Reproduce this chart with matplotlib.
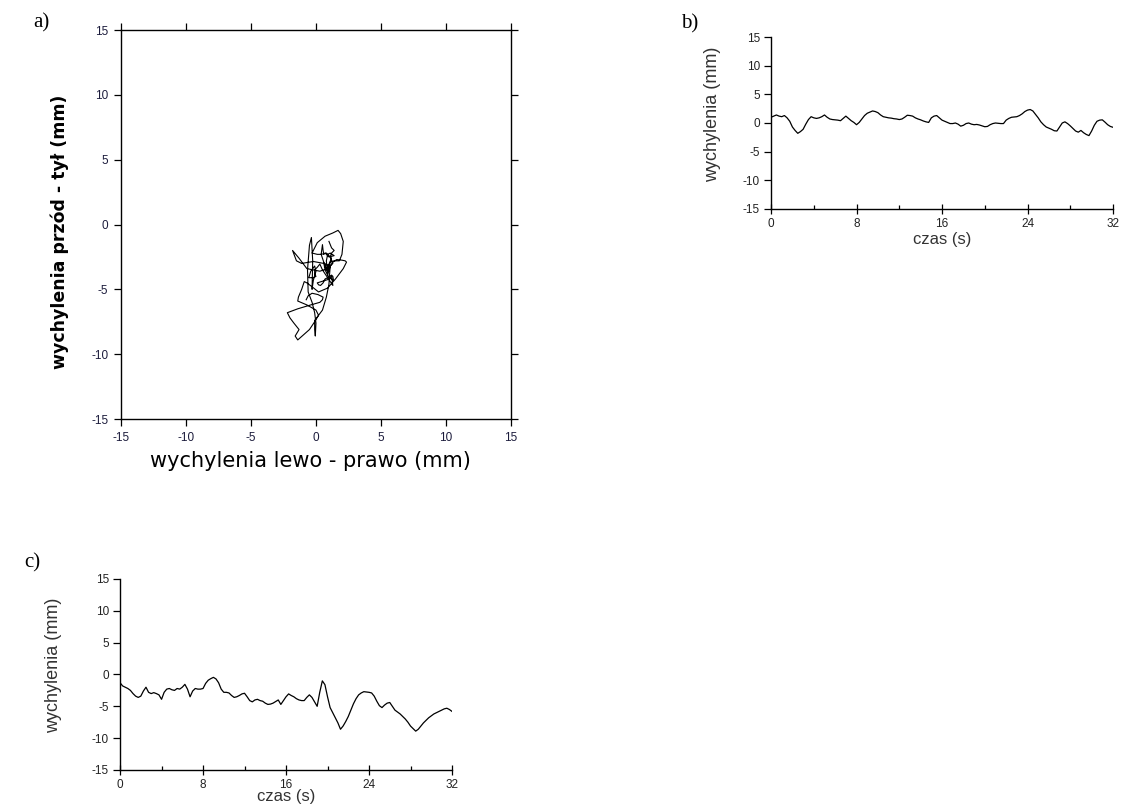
import matplotlib
matplotlib.use('Agg')
import matplotlib.pyplot as plt
import numpy as np
from matplotlib.ticker import MultipleLocator

plt.rcParams['axes.unicode_minus'] = False
plt.rcParams['font.family'] = ['Liberation Sans', 'DejaVu Sans']

# probki co 0.25 s, 0 - 32 s
krok = 0.25

# wychylenia lewo - prawo (mm)
lewo_prawo = [
    1.0, 1.2, 1.4, 1.2, 1.1, 1.3, 0.9, 0.3,
    -0.7, -1.3, -1.8, -1.5, -1.1, -0.2, 0.6, 1.1,
    0.9, 0.8, 0.9, 1.1, 1.4, 1.0, 0.7, 0.6,
    0.55, 0.5, 0.4, 0.8, 1.2, 0.8, 0.4, 0.1,
    -0.3, 0.1, 0.7, 1.3, 1.7, 1.9, 2.1, 2.0,
    1.8, 1.4, 1.1, 1.0, 0.9, 0.85, 0.75, 0.7,
    0.6, 0.7, 1.0, 1.35, 1.3, 1.2, 0.9, 0.7,
    0.55, 0.35, 0.2, 0.1, 0.9, 1.2, 1.3, 0.9,
    0.5, 0.3, 0.1, -0.1, -0.1, 0.0, -0.2, -0.55,
    -0.4, -0.1, 0.0, -0.2, -0.3, -0.25, -0.35, -0.5,
    -0.65, -0.6, -0.3, -0.1, 0.0, -0.05, -0.1, -0.1,
    0.5, 0.8, 1.0, 1.05, 1.1, 1.3, 1.6, 2.0,
    2.25, 2.35, 2.1, 1.5, 0.9, 0.2, -0.3, -0.7,
    -0.9, -1.1, -1.35, -1.4, -0.7, 0.0, 0.2, -0.1,
    -0.5, -0.95, -1.4, -1.6, -1.3, -1.7, -2.0, -2.2,
    -1.4, -0.4, 0.3, 0.5, 0.55, 0.15, -0.3, -0.6,
    -0.75,
]

# wychylenia przod - tyl (mm)
przod_tyl = [
    -1.3, -1.8, -2.0, -2.2, -2.5, -3.0, -3.4, -3.6,
    -3.4, -2.6, -2.0, -2.8, -3.0, -2.85, -3.0, -3.2,
    -3.9, -2.8, -2.3, -2.2, -2.4, -2.5, -2.2, -2.3,
    -2.0, -1.55, -2.3, -3.5, -2.6, -2.2, -2.3, -2.3,
    -2.2, -1.4, -0.9, -0.65, -0.45, -0.7, -1.3, -2.3,
    -2.8, -2.8, -2.9, -3.3, -3.6, -3.5, -3.3, -3.05,
    -2.95, -3.5, -4.1, -4.3, -4.0, -3.9, -4.1, -4.2,
    -4.5, -4.7, -4.65, -4.5, -4.25, -4.0, -4.7, -4.1,
    -3.5, -3.05, -3.3, -3.5, -3.8, -4.0, -4.1, -4.1,
    -3.6, -3.2, -3.6, -4.3, -5.0, -2.8, -1.0, -1.6,
    -3.5, -5.2, -6.0, -6.8, -7.6, -8.6, -8.1, -7.4,
    -6.6, -5.6, -4.6, -3.8, -3.2, -2.9, -2.7, -2.75,
    -2.8, -2.9, -3.4, -4.2, -4.9, -5.2, -4.8, -4.5,
    -4.4, -5.0, -5.6, -5.9, -6.2, -6.6, -7.0, -7.5,
    -8.1, -8.5, -8.9, -8.6, -8.1, -7.6, -7.2, -6.8,
    -6.5, -6.2, -6.0, -5.8, -5.6, -5.4, -5.3, -5.5,
    -5.8,
]

czas = np.arange(len(lewo_prawo)) * krok

zakres = (-15, 15)
ticki_mm = [-15, -10, -5, 0, 5, 10, 15]
ticki_czas = [0, 8, 16, 24, 32]

waski = ['Liberation Sans Narrow', 'Liberation Sans']

fig = plt.figure(figsize=(11.23, 8.10), dpi=100)

# a) stabilogram
axa = fig.add_axes([0.1077, 0.4827, 0.3473, 0.4802])
axa.plot(lewo_prawo, przod_tyl, color='black', lw=0.8)
axa.set_xlim(zakres)
axa.set_ylim(zakres)
axa.set_xticks(ticki_mm)
axa.set_yticks(ticki_mm)
axa.tick_params(direction='out', length=5, width=0.9, top=True, right=True,
                labelsize=8.5, labelcolor='#1c1c3c', pad=4)
for s in axa.spines.values():
    s.set_linewidth(1.0)
axa.set_xlabel('wychylenia lewo - prawo (mm)', fontsize=15, family='DejaVu Sans',
               va='top')
axa.xaxis.set_label_coords(0.485, -0.082)
axa.set_ylabel('wychylenia przód - tył (mm)', fontsize=12.5, family='DejaVu Sans',
               fontweight='bold', va='center')
axa.yaxis.set_label_coords(-0.156, 0.48)


def przebieg(ax, wartosci, lab_x, lab_dol, lab_y):
    ax.plot(czas, wartosci, color='black', lw=0.9)
    ax.set_xlim(0, 32)
    ax.set_ylim(zakres)
    ax.set_xticks(ticki_czas)
    ax.xaxis.set_minor_locator(MultipleLocator(4))
    ax.set_yticks(ticki_mm)
    ax.spines['top'].set_visible(False)
    ax.spines['right'].set_visible(False)
    for s in ('left', 'bottom'):
        ax.spines[s].set_linewidth(1.0)
    ax.tick_params(axis='y', direction='out', length=5, width=0.9, pad=3)
    ax.tick_params(axis='x', which='major', direction='inout', length=7, width=0.9, pad=3)
    ax.tick_params(axis='x', which='minor', direction='in', length=3, width=0.9)
    for lab in ax.get_xticklabels() + ax.get_yticklabels():
        lab.set_family(waski)
        lab.set_fontsize(8.5)
        lab.set_color('#222222')
    ax.set_xlabel('czas (s)', fontsize=12, color='#333333', va='top')
    ax.xaxis.set_label_coords(0.5, lab_dol)
    ax.set_ylabel('wychylenia (mm)', fontsize=13, color='#333333', va='center')
    ax.yaxis.set_label_coords(lab_x, lab_y)


# b) lewo - prawo w czasie
axb = fig.add_axes([0.6866, 0.742, 0.3045, 0.2123])
przebieg(axb, lewo_prawo, -0.172, -0.135, 0.55)

# c) przod - tyl w czasie
axc = fig.add_axes([0.1069, 0.0494, 0.2956, 0.2358])
przebieg(axc, przod_tyl, -0.2, -0.1, 0.55)

for txt, x, y in [('a)', 0.030, 0.972), ('b)', 0.606, 0.970), ('c)', 0.022, 0.305)]:
    fig.text(x, y, txt, family='Liberation Serif', fontsize=15, va='center')

fig.savefig('out.png', dpi=100)
